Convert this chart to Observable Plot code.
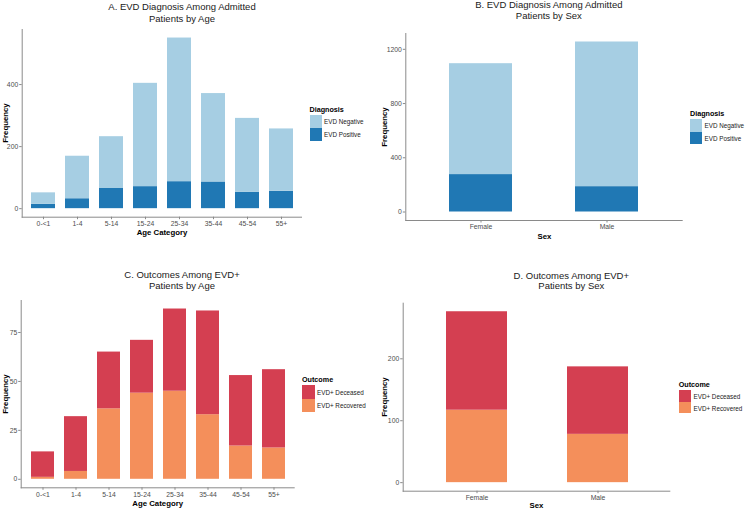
<!DOCTYPE html>
<html>
<head>
<meta charset="utf-8">
<script src="https://cdn.jsdelivr.net/npm/d3@7"></script>
<script src="https://cdn.jsdelivr.net/npm/@observablehq/plot@0.6"></script>
<style>
  html, body { margin: 0; padding: 0; background: #fff; }
  body { width: 745px; height: 508px; position: relative; overflow: hidden; font-family: "Liberation Sans", Arial, sans-serif; }
  .abs { position: absolute; }
  .title { font-size: 9.5px; color: #1a1a1a; text-align: center; line-height: 11.2px; white-space: nowrap; transform: translateX(-50%); }
  .axt { font-size: 7.8px; font-weight: bold; color: #000; white-space: nowrap; }
  .ylab { transform: translate(-50%, -50%) rotate(-90deg); }
  .xlab { transform: translate(-50%, -50%); }
  .legt { font-size: 7.2px; font-weight: bold; color: #000; white-space: nowrap; transform: translateY(-50%); }
  .legl { font-size: 6.3px; color: #1a1a1a; white-space: nowrap; transform: translateY(-50%); }
  .sw { position: absolute; }
</style>
</head>
<body>
<script>
// ---------- data ----------
const ageCategories = ["0-<1", "1-4", "5-14", "15-24", "25-34", "35-44", "45-54", "55+"];
const sexCategories = ["Female", "Male"];

const diagnosisLabels = ["EVD Negative", "EVD Positive"];
const evdPositiveByAge = [14, 32, 65, 71, 87, 86, 53, 56];
const evdNegativeByAge = [37, 137, 167, 333, 463, 285, 238, 201];
const evdPositiveBySex = [276, 187];
const evdNegativeBySex = [818, 1067];

const outcomeLabels = ["EVD+ Deceased", "EVD+ Recovered"];
const recoveredByAge = [1, 4, 36, 44, 45, 33, 17, 16];
const deceasedByAge = [13, 28, 29, 27, 42, 53, 36, 40];
const recoveredBySex = [117, 78];
const deceasedBySex = [159, 109];

const ticksA = [0, 200, 400];
const ticksB = [0, 400, 800, 1200];
const ticksC = [0, 25, 50, 75];
const ticksD = [0, 100, 200];

const diagnosisColors = ["#a6cee3", "#2078b4"];
const outcomeColors = ["#d43f51", "#f48f5b"];

// ---------- helpers ----------
function rows(cats, bottomVals, bottomLabel, topVals, topLabel) {
  const out = [];
  cats.forEach((c, i) => out.push({cat: c, value: bottomVals[i], group: bottomLabel}));
  cats.forEach((c, i) => out.push({cat: c, value: topVals[i], group: topLabel}));
  return out;
}

function addText(cls, text, x, y) {
  const d = document.createElement("div");
  d.className = "abs " + cls;
  d.textContent = text;
  d.style.left = x + "px";
  d.style.top = y + "px";
  document.body.appendChild(d);
  return d;
}

function panel(cfg) {
  const data = rows(cfg.cats, cfg.bottom, cfg.labels[1], cfg.top, cfg.labels[0]);
  const totals = cfg.cats.map((c, i) => cfg.bottom[i] + cfg.top[i]);
  const mx = d3.max(totals);
  const lo = -0.05 * mx, hi = 1.05 * mx;
  const axisColor = "#8a8a8a";
  const chart = Plot.plot({
    width: cfg.w,
    height: cfg.h,
    marginLeft: cfg.ml, marginRight: cfg.mr, marginTop: cfg.mt, marginBottom: cfg.mb,
    style: {fontFamily: "Liberation Sans, Arial, sans-serif", fontSize: "6.8px", color: "#4d4d4d", background: "transparent", overflow: "visible"},
    x: {domain: cfg.cats, paddingInner: cfg.pin, paddingOuter: cfg.pout, align: 0.5},
    y: {domain: [lo, hi]},
    color: {domain: cfg.labels, range: cfg.colors},
    marks: [
      Plot.barY(data, {x: "cat", y: "value", fill: "group", inset: 0}),
      Plot.ruleY([lo], {stroke: axisColor, strokeWidth: 1}),
      Plot.frame({anchor: "left", stroke: axisColor, strokeWidth: 1}),
      Plot.axisX({tickSize: 2.5, tickPadding: 1.5, stroke: axisColor, fill: "#4d4d4d", label: null}),
      Plot.axisY({ticks: cfg.ticks, tickFormat: d => String(d), tickSize: 2.5, tickPadding: 1.5, stroke: axisColor, fill: "#4d4d4d", label: null})
    ]
  });
  chart.style.position = "absolute";
  chart.style.left = cfg.left + "px";
  chart.style.top = cfg.topPx + "px";
  document.body.appendChild(chart);

  // titles
  addText("title", cfg.title[0], cfg.tx, cfg.ty - 5.6);
  addText("title", cfg.title[1], cfg.tx, cfg.ty + cfg.tgap - 5.6);
  // axis titles
  addText("axt xlab", cfg.xTitle, cfg.xtx, cfg.xty);
  addText("axt ylab", "Frequency", cfg.ytx, cfg.yty);
  // legend
  addText("legt", cfg.legendTitle, cfg.lx, cfg.ly);
  cfg.labels.forEach((lab, i) => {
    const sw = document.createElement("div");
    sw.className = "sw";
    sw.style.left = cfg.lx + "px";
    sw.style.top = (cfg.sy + i * cfg.sh) + "px";
    sw.style.width = cfg.sw + "px";
    sw.style.height = cfg.sh + "px";
    sw.style.background = cfg.colors[i];
    document.body.appendChild(sw);
    addText("legl", lab, cfg.lx + cfg.sw + 2.5, cfg.sy + i * cfg.sh + cfg.sh / 2);
  });
}

// Panel A
panel({
  cats: ageCategories, bottom: evdPositiveByAge, top: evdNegativeByAge,
  labels: diagnosisLabels, colors: diagnosisColors, ticks: ticksA,
  left: 0, topPx: 0, w: 305, h: 240, ml: 21.7, mr: 3, mt: 29, mb: 23.3,
  pin: 0.3, pout: 0.25,
  title: ["A. EVD Diagnosis Among Admitted", "Patients by Age"], tx: 182, ty: 6.9, tgap: 11.5,
  xTitle: "Age Category", xtx: 162, xty: 232.3, ytx: 4.5, yty: 123,
  legendTitle: "Diagnosis", lx: 309.5, ly: 108.7, sy: 115, sw: 12, sh: 12.8
});

// Panel B
panel({
  cats: sexCategories, bottom: evdPositiveBySex, top: evdNegativeBySex,
  labels: diagnosisLabels, colors: diagnosisColors, ticks: ticksB,
  left: 372, topPx: 0, w: 315, h: 245, ml: 33.3, mr: 4.3, mt: 33, mb: 25,
  pin: 0.5, pout: 0.35,
  title: ["B. EVD Diagnosis Among Admitted", "Patients by Sex"], tx: 548.8, ty: 4.5, tgap: 10.8,
  xTitle: "Sex", xtx: 544.5, xty: 235.7, ytx: 383.7, yty: 127,
  legendTitle: "Diagnosis", lx: 690, ly: 112.7, sy: 119, sw: 12, sh: 12.5
});

// Panel C
panel({
  cats: ageCategories, bottom: recoveredByAge, top: deceasedByAge,
  labels: outcomeLabels, colors: outcomeColors, ticks: ticksC,
  left: 0, topPx: 250, w: 300, h: 258, ml: 20.7, mr: 5.3, mt: 50, mb: 20.7,
  pin: 0.3, pout: 0.25,
  title: ["C. Outcomes Among EVD+", "Patients by Age"], tx: 182, ty: 275, tgap: 10.8,
  xTitle: "Age Category", xtx: 157.7, xty: 503.3, ytx: 5, yty: 393.7,
  legendTitle: "Outcome", lx: 302, ly: 379.3, sy: 385.3, sw: 12.5, sh: 13.3
});

// Panel D
panel({
  cats: sexCategories, bottom: recoveredBySex, top: deceasedBySex,
  labels: outcomeLabels, colors: outcomeColors, ticks: ticksD,
  left: 372, topPx: 250, w: 302, h: 258, ml: 30.7, mr: 3.7, mt: 52.7, mb: 17.3,
  pin: 0.5, pout: 0.35,
  title: ["D. Outcomes Among EVD+", "Patients by Sex"], tx: 571.3, ty: 275.7, tgap: 10.2,
  xTitle: "Sex", xtx: 536.5, xty: 505, ytx: 383.7, yty: 396.7,
  legendTitle: "Outcome", lx: 678.7, ly: 383.7, sy: 390, sw: 12.3, sh: 11.7
});
</script>
</body>
</html>
